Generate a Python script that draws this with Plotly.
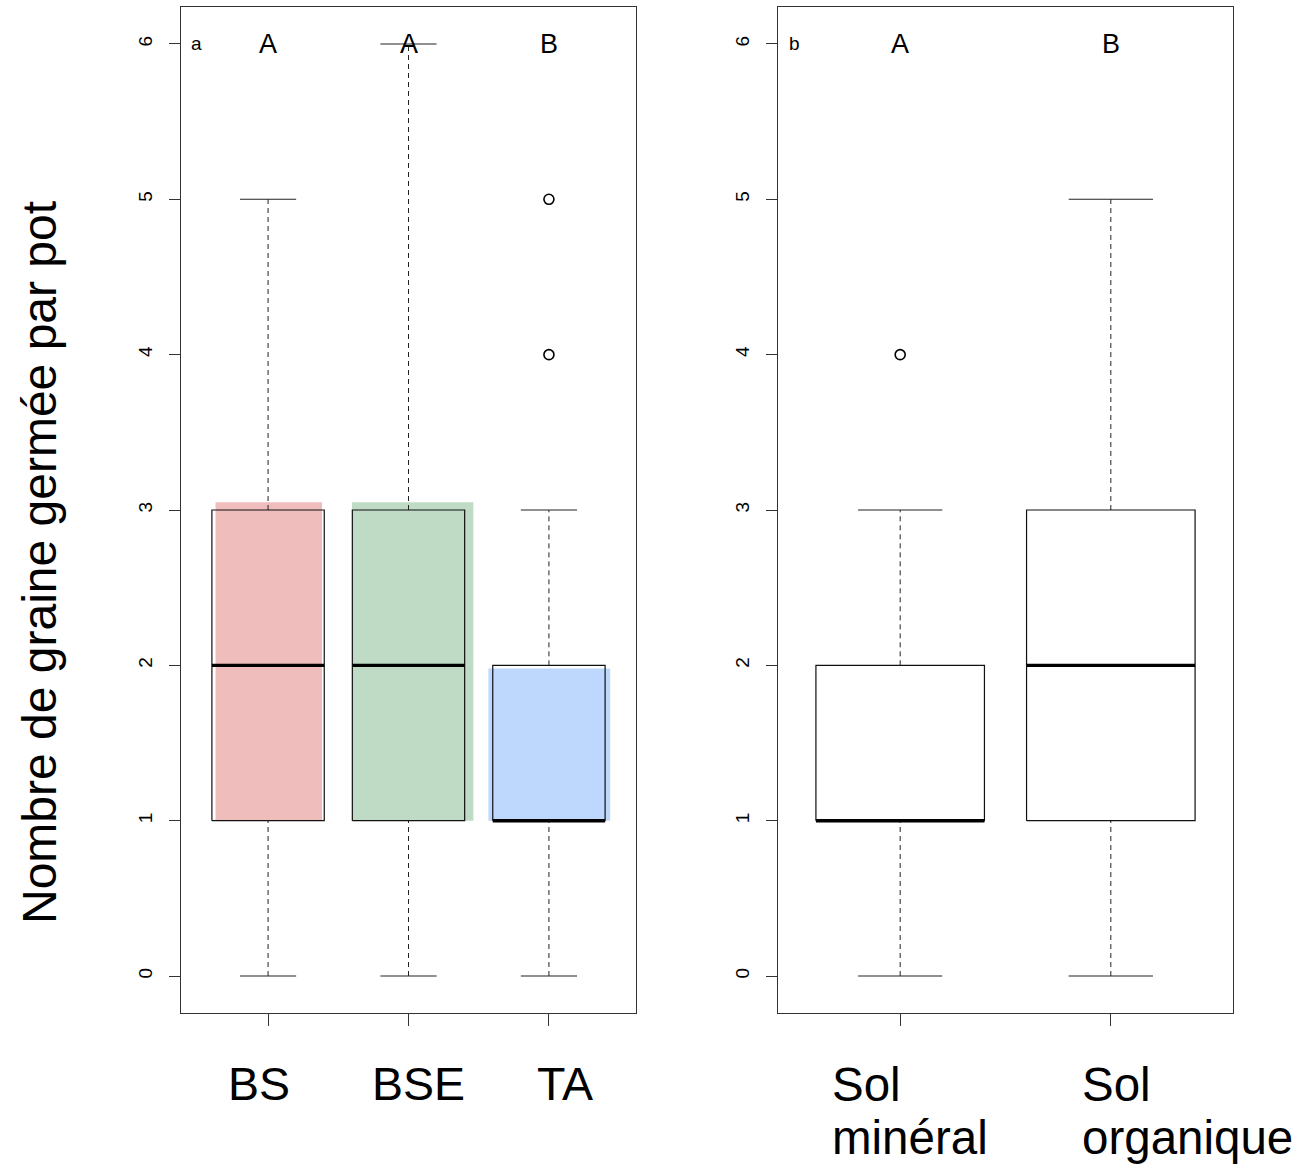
import plotly.graph_objects as go

# ---------------- data ----------------
left_categories = ["BS", "BSE", "TA"]
left_pos = [1, 2, 3]
left_min = [0, 0, 0]
left_q1 = [1, 1, 1]
left_median = [2, 2, 1]
left_q3 = [3, 3, 2]
left_max = [5, 6, 3]
left_outliers = [[], [], [4, 5]]
left_letters = ["A", "A", "B"]

right_categories = ["Sol minéral", "Sol organique"]
right_pos = [1, 2]
right_min = [0, 0]
right_q1 = [1, 1]
right_median = [1, 2]
right_q3 = [2, 3]
right_max = [3, 5]
right_outliers = [[4], []]
right_letters = ["A", "B"]

y_ticks = [0, 1, 2, 3, 4, 5, 6]

# coloured highlight rectangles behind the left boxes (x0, x1, y0, y1)
hl_x0 = [0.626, 1.598, 2.569]
hl_x1 = [1.384, 2.462, 3.436]
hl_y0 = [1.0, 1.0, 1.0]
hl_y1 = [3.05, 3.05, 1.98]
hl_colors = ["#f0bdbd", "#bfdbc5", "#bed8fd"]

# ---------------- style ----------------
FONT = "Liberation Sans, Arial, sans-serif"
BOXW = 0.4     # half box width
CAPW = 0.2     # half staple width
fig = go.Figure()


def add_boxes(pos, mn, q1, med, q3, mx, outl, xa, ya):
    bx, by, mx_, my_, wx, wy, cx, cy, ox, oy = [], [], [], [], [], [], [], [], [], []
    for i, c in enumerate(pos):
        bx += [c - BOXW, c + BOXW, c + BOXW, c - BOXW, c - BOXW, None]
        by += [q1[i], q1[i], q3[i], q3[i], q1[i], None]
        mx_ += [c - BOXW, c + BOXW, None]
        my_ += [med[i], med[i], None]
        wx += [c, c, None, c, c, None]
        wy += [mn[i], q1[i], None, q3[i], mx[i], None]
        cx += [c - CAPW, c + CAPW, None, c - CAPW, c + CAPW, None]
        cy += [mn[i], mn[i], None, mx[i], mx[i], None]
        for o in outl[i]:
            ox.append(c)
            oy.append(o)
    common = dict(xaxis=xa, yaxis=ya, showlegend=False, hoverinfo="skip")
    fig.add_trace(go.Scatter(x=wx, y=wy, mode="lines",
                             line=dict(color="#222", width=1, dash="5px,4px"), **common))
    fig.add_trace(go.Scatter(x=cx, y=cy, mode="lines",
                             line=dict(color="#222", width=1.1), **common))
    fig.add_trace(go.Scatter(x=bx, y=by, mode="lines",
                             line=dict(color="#111", width=1.2), **common))
    fig.add_trace(go.Scatter(x=mx_, y=my_, mode="lines",
                             line=dict(color="#000", width=3.4), **common))
    if ox:
        fig.add_trace(go.Scatter(x=ox, y=oy, mode="markers",
                                 marker=dict(symbol="circle-open", size=10,
                                             color="#000", line=dict(width=1.6)),
                                 **common))


add_boxes(left_pos, left_min, left_q1, left_median, left_q3, left_max,
          left_outliers, "x", "y")
add_boxes(right_pos, right_min, right_q1, right_median, right_q3, right_max,
          right_outliers, "x2", "y2")

shapes = []
for i in range(len(hl_x0)):
    shapes.append(dict(type="rect", xref="x", yref="y", x0=hl_x0[i], x1=hl_x1[i],
                       y0=hl_y0[i], y1=hl_y1[i], fillcolor=hl_colors[i],
                       line=dict(width=0), layer="below"))

annotations = []
# significance letters
for i, c in enumerate(left_pos):
    annotations.append(dict(xref="x", yref="y", x=c, y=6, text=left_letters[i],
                            showarrow=False, font=dict(family=FONT, size=27, color="#000"),
                            xanchor="center", yanchor="middle"))
for i, c in enumerate(right_pos):
    annotations.append(dict(xref="x2", yref="y2", x=c, y=6, text=right_letters[i],
                            showarrow=False, font=dict(family=FONT, size=27, color="#000"),
                            xanchor="center", yanchor="middle"))
# panel tags
annotations.append(dict(xref="x domain", yref="y", x=0.035, y=6, text="a", showarrow=False,
                        font=dict(family=FONT, size=19, color="#000"),
                        xanchor="center", yanchor="middle"))
annotations.append(dict(xref="x2 domain", yref="y2", x=0.037, y=6, text="b", showarrow=False,
                        font=dict(family=FONT, size=19, color="#000"),
                        xanchor="center", yanchor="middle"))

# category labels under the left panel
left_label_x = [259 / 1300, 418 / 1300, 565 / 1300]
for i, lab in enumerate(left_categories):
    annotations.append(dict(xref="paper", yref="paper", x=left_label_x[i], y=1 - 1084 / 1164,
                            text=lab, showarrow=False,
                            font=dict(family=FONT, size=46.5, color="#000"),
                            xanchor="center", yanchor="middle"))
# category labels under the right panel (two lines, left aligned)
right_label_x = [830 / 1300, 1080 / 1300]
for i, lab in enumerate(right_categories):
    first, second = lab.split(" ")
    annotations.append(dict(xref="paper", yref="paper", x=right_label_x[i], y=1 - 1084 / 1164,
                            text=first, showarrow=False,
                            font=dict(family=FONT, size=47.5, color="#000"),
                            xanchor="left", yanchor="middle"))
    annotations.append(dict(xref="paper", yref="paper", x=right_label_x[i], y=1 - 1137 / 1164,
                            text=second, showarrow=False,
                            font=dict(family=FONT, size=47.5, color="#000"),
                            xanchor="left", yanchor="middle"))
# y title
annotations.append(dict(xref="paper", yref="paper", x=39 / 1300, y=1 - 563 / 1164,
                        text="Nombre de graine germée par pot", textangle=-90,
                        showarrow=False, font=dict(family=FONT, size=48, color="#000"),
                        xanchor="center", yanchor="middle"))

axis_common = dict(showline=True, mirror=True, linecolor="#333", linewidth=1.3,
                   showgrid=False, zeroline=False, ticks="outside", tickcolor="#333",
                   tickwidth=1.3)

fig.update_layout(
    width=1300, height=1164,
    margin=dict(l=0, r=0, t=0, b=0),
    paper_bgcolor="white", plot_bgcolor="white",
    shapes=shapes, annotations=annotations,
    xaxis=dict(domain=[181 / 1300, 636 / 1300], range=[0.38, 3.62], tickvals=left_pos,
               showticklabels=False, ticklen=12, anchor="y", **axis_common),
    yaxis=dict(domain=[1 - 1013 / 1164, 1 - 7 / 1164], range=[-0.238, 6.238],
               tickvals=y_ticks, ticklen=11, tickangle=-90, anchor="x",
               ticklabelstandoff=9,
               tickfont=dict(family=FONT, size=19, color="#000"), **axis_common),
    xaxis2=dict(domain=[778 / 1300, 1233 / 1300], range=[0.42, 2.58], tickvals=right_pos,
                showticklabels=False, ticklen=12, anchor="y2", **axis_common),
    yaxis2=dict(domain=[1 - 1013 / 1164, 1 - 7 / 1164], range=[-0.238, 6.238],
                tickvals=y_ticks, ticklen=11, tickangle=-90, anchor="x2",
                ticklabelstandoff=9,
                tickfont=dict(family=FONT, size=19, color="#000"), **axis_common),
)

fig.write_html("out.html",
               config={"displayModeBar": False},
               post_script="document.body.style.margin='0';document.body.style.overflow='hidden';")
